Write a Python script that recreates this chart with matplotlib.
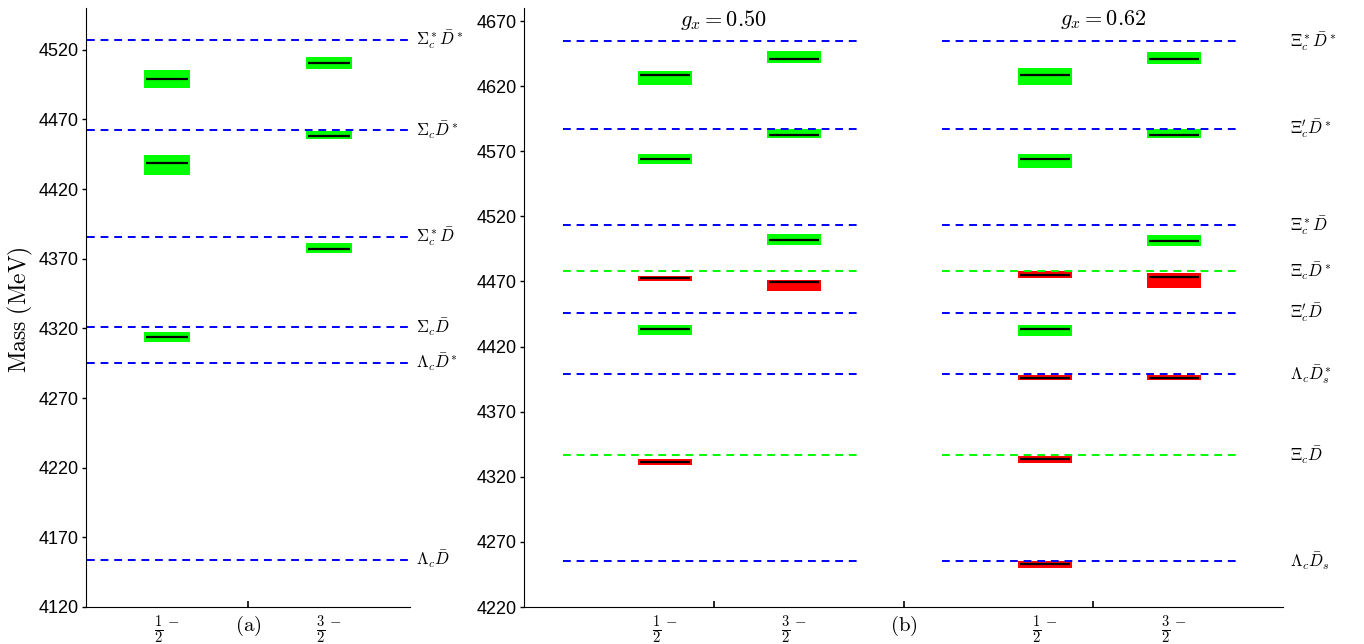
import matplotlib
matplotlib.use('Agg')
import matplotlib.pyplot as plt

plt.rcParams['font.family'] = ['Liberation Sans', 'DejaVu Sans']
plt.rcParams['mathtext.fontset'] = 'cm'

# ---- panel (a): thresholds and states
thr_a_names = [r'$\Sigma_c^*\bar{D}^*$', r'$\Sigma_c\bar{D}^*$', r'$\Sigma_c^*\bar{D}$',
               r'$\Sigma_c\bar{D}$', r'$\Lambda_c\bar{D}^*$', r'$\Lambda_c\bar{D}$']
thr_a_mass = [4527, 4462.5, 4385.7, 4321, 4295.5, 4154]

a_12_mass = [4499, 4439, 4313.5]
a_12_lo = [4492.7, 4430.4, 4310.5]
a_12_hi = [4505.6, 4444.6, 4317.5]
a_32_mass = [4510.7, 4458, 4377.3]
a_32_lo = [4506.3, 4456, 4374]
a_32_hi = [4514.7, 4461.6, 4381]

# ---- panel (b): thresholds and states for g_x = 0.50 and 0.62
thr_b_names = [r'$\Xi_c^*\bar{D}^*$', r"$\Xi_c'\bar{D}^*$", r'$\Xi_c^*\bar{D}$', r'$\Xi_c\bar{D}^*$',
               r"$\Xi_c'\bar{D}$", r'$\Lambda_c\bar{D}_s^*$', r'$\Xi_c\bar{D}$', r'$\Lambda_c\bar{D}_s$']
thr_b_mass = [4654.6, 4587.4, 4513, 4478, 4445.9, 4398.7, 4336.7, 4255]
thr_b_kind = ['b', 'b', 'b', 'g', 'b', 'b', 'g', 'b']

b1_12_mass = [4628.2, 4564.4, 4472.3, 4433.6, 4331.5]
b1_12_lo = [4620.8, 4560.0, 4470.0, 4428.5, 4329.2]
b1_12_hi = [4631.5, 4567.7, 4474.4, 4436.9, 4333.8]
b1_12_kind = ['g', 'g', 'r', 'g', 'r']
b1_32_mass = [4640.8, 4582.3, 4501.8, 4469.5]
b1_32_lo = [4637.7, 4580.3, 4497.7, 4462.5]
b1_32_hi = [4646.9, 4586.9, 4506.2, 4471.5]
b1_32_kind = ['g', 'g', 'g', 'r']

b2_12_mass = [4628.2, 4564.4, 4475.1, 4433.6, 4396.2, 4333.3, 4253.3]
b2_12_lo = [4620.8, 4556.9, 4472.6, 4427.9, 4394.1, 4330.8, 4250.2]
b2_12_hi = [4633.8, 4567.7, 4477.7, 4436.9, 4398.5, 4336.2, 4255.6]
b2_12_kind = ['g', 'g', 'r', 'g', 'r', 'r', 'r']
b2_32_mass = [4640.8, 4582.3, 4501.3, 4473.6, 4396.2]
b2_32_lo = [4636.9, 4580.0, 4496.9, 4465.2, 4394.1]
b2_32_hi = [4646.2, 4586.9, 4505.4, 4476.4, 4398.5]
b2_32_kind = ['g', 'g', 'g', 'r', 'r']

gx_labels = [r'$g_x=0.50$', r'$g_x=0.62$']

col = {'b': '#0000ff', 'g': '#00ff00', 'r': '#ff0000'}
dash = (0, (4, 3))
half = r'$\frac{1}{2}^-$'
threehalf = r'$\frac{3}{2}^-$'
W = 0.57


def states(ax, x, mass, lo, hi, kind, w=W):
    ax.bar([x] * len(mass), [h - l for h, l in zip(hi, lo)], bottom=lo, width=w,
           color=[col[k] for k in kind], linewidth=0, zorder=2)
    ax.hlines(mass, x - w / 2 + 0.02, x + w / 2 - 0.02, colors='black', linewidth=1.6, zorder=4)


def style(ax):
    for s in ['top', 'right']:
        ax.spines[s].set_visible(False)
    ax.tick_params(axis='y', direction='out', length=3, width=1, labelsize=13, pad=2)
    ax.tick_params(axis='x', which='major', direction='in', length=4, width=1.2, labelsize=15, pad=5)
    ax.tick_params(axis='x', which='minor', length=0, labelsize=15, pad=5)


fig = plt.figure(figsize=(13.64, 6.44), dpi=100)

# panel (a)
ax1 = fig.add_axes([86 / 1364, 37 / 644, 324 / 1364, 599 / 644])
ax1.set_xlim(0, 4)
ax1.set_ylim(4120, 4550)
ax1.set_yticks(range(4120, 4521, 50))
ax1.hlines(thr_a_mass, 0.01, 3.97, colors=col['b'], linestyles=dash, linewidth=1.4, zorder=3)
for m, n in zip(thr_a_mass, thr_a_names):
    ax1.text(4.08, m, n, fontsize=12, va='center', ha='left', clip_on=False)
states(ax1, 1, a_12_mass, a_12_lo, a_12_hi, ['g'] * 3)
states(ax1, 3, a_32_mass, a_32_lo, a_32_hi, ['g'] * 3)
ax1.set_xticks([2], [r'$\mathrm{(a)}$'])
ax1.set_xticks([1, 3], [half, threehalf], minor=True)
style(ax1)

# panel (b)
ax2 = fig.add_axes([524 / 1364, 37 / 644, 759 / 1364, 599 / 644])
ax2.set_xlim(0, 8)
ax2.set_ylim(4220, 4680)
ax2.set_yticks(range(4220, 4671, 50))
xc = [[1.484, 2.845], [5.49, 6.85]]
for g, (x0, x1) in enumerate([(0.41, 3.56), (4.41, 7.56)]):
    ax2.hlines(thr_b_mass, x0, x1, colors=[col[k] for k in thr_b_kind],
               linestyles=dash, linewidth=1.4, zorder=3)
    ax2.text(2.1 + 4 * g, 4671, gx_labels[g], fontsize=16, ha='center', va='center')
for m, n in zip(thr_b_mass, thr_b_names):
    ax2.text(8.07, m, n, fontsize=12, va='center', ha='left', clip_on=False)
states(ax2, xc[0][0], b1_12_mass, b1_12_lo, b1_12_hi, b1_12_kind)
states(ax2, xc[0][1], b1_32_mass, b1_32_lo, b1_32_hi, b1_32_kind)
states(ax2, xc[1][0], b2_12_mass, b2_12_lo, b2_12_hi, b2_12_kind)
states(ax2, xc[1][1], b2_32_mass, b2_32_lo, b2_32_hi, b2_32_kind)
ax2.set_xticks([2, 4, 6], ['', r'$\mathrm{(b)}$', ''])
ax2.set_xticks([xc[0][0], xc[0][1], xc[1][0], xc[1][1]], [half, threehalf, half, threehalf], minor=True)
style(ax2)

fig.text(0.0147, 0.52, r'$\mathrm{Mass\ (MeV)}$', rotation=90, fontsize=17, ha='center', va='center')

fig.savefig('out.png', dpi=100)
